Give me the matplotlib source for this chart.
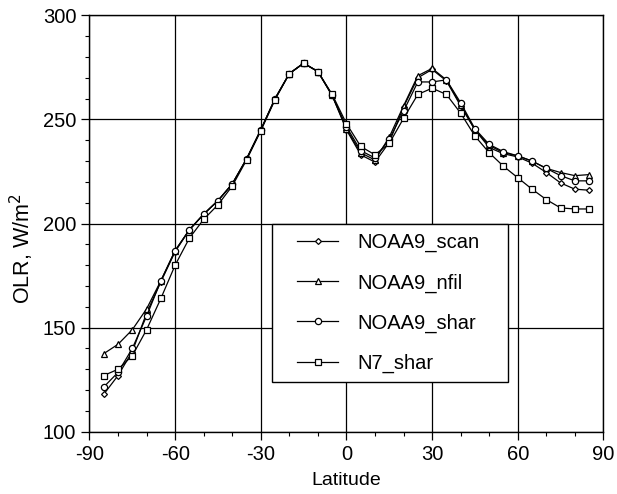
import matplotlib.pyplot as plt
from matplotlib.patches import Rectangle
from matplotlib.ticker import MultipleLocator

plt.rcParams["font.family"] = ["Liberation Sans", "DejaVu Sans"]
plt.rcParams["axes.unicode_minus"] = False

lat = [-85, -80, -75, -70, -65, -60, -55, -50, -45, -40, -35, -30, -25, -20,
       -15, -10, -5, 0, 5, 10, 15, 20, 25, 30, 35, 40, 45, 50, 55, 60, 65, 70,
       75, 80, 85]

noaa9_scan = [118, 127, 138.5, 157, 172, 186.5, 197, 204.5, 211, 219, 231, 245,
              260, 272, 277, 273, 261.5, 245, 233, 229.5, 239, 256, 270, 274,
              268.5, 256.5, 245, 236.5, 233.5, 232, 229, 224.5, 219.5, 216.5, 216]
noaa9_nfil = [137.5, 142, 149, 159, 172.5, 187, 197, 204.5, 211, 219, 231, 245,
              260, 272, 277, 273, 261.5, 245.5, 234, 230.5, 241.5, 256.5, 271,
              274.5, 269, 257, 245, 237.5, 234, 232.5, 230, 226.5, 224.5, 223, 223.5]
noaa9_shar = [121.5, 128.5, 140, 155.5, 172.5, 187, 197, 204.5, 211, 219, 231,
              245, 260, 272, 277, 273, 261.5, 246.5, 235, 231.5, 240.5, 254, 268,
              268, 269, 258, 245.5, 238, 234.5, 232.5, 230, 226.5, 223, 220.5, 220.5]
n7_shar = [127, 130, 136.5, 149, 164, 180, 193, 202, 209, 218, 230.5, 244.5,
           259.5, 272, 277, 273, 262, 248, 237, 233, 238.5, 250.5, 262, 265, 262,
           253, 242, 234, 227.5, 222, 216.5, 211.5, 207.5, 207, 207]

series = [
    ("NOAA9_scan", noaa9_scan, "D", 3),
    ("NOAA9_nfil", noaa9_nfil, "^", 4.3),
    ("NOAA9_shar", noaa9_shar, "o", 4.5),
    ("N7_shar", n7_shar, "s", 5),
]

fig = plt.figure(figsize=(6.17, 4.94), dpi=100)
ax = fig.add_axes([0.145, 0.126, 0.833, 0.843])

for name, vals, mk, ms in series:
    ax.plot(lat, vals, color="black", lw=0.9, marker=mk, ms=ms,
            mfc="white", mec="black", mew=0.9, label=name)

ax.set_xlim(-90, 90)
ax.set_ylim(100, 300)
ax.xaxis.set_major_locator(MultipleLocator(30))
ax.xaxis.set_minor_locator(MultipleLocator(10))
ax.yaxis.set_major_locator(MultipleLocator(50))
ax.yaxis.set_minor_locator(MultipleLocator(10))
ax.grid(True, which="major", color="black", lw=0.9)
ax.tick_params(which="major", direction="out", length=6, width=0.9,
               labelsize=14.5, colors="black")
ax.tick_params(which="minor", direction="out", length=3, width=0.8)
for sp in ax.spines.values():
    sp.set_linewidth(1.0)

ax.set_xlabel("Latitude", fontsize=14, labelpad=6)
ax.set_ylabel("OLR, W/m$^2$", fontsize=15.5)
ax.yaxis.set_label_coords(-0.104, 0.44)

# legend box drawn separately so the inner padding can match
box = Rectangle((-26, 124), 82.5, 76, facecolor="white", edgecolor="black",
                lw=1.0, zorder=4.5)
ax.add_patch(box)
leg = ax.legend(loc="upper left", bbox_to_anchor=(0.404, 0.477),
                fontsize=14.5, frameon=False, handlelength=2.05,
                handletextpad=0.95, labelspacing=1.04, borderpad=0,
                borderaxespad=0)
leg.set_zorder(5)

fig.savefig("out.png", dpi=100)
